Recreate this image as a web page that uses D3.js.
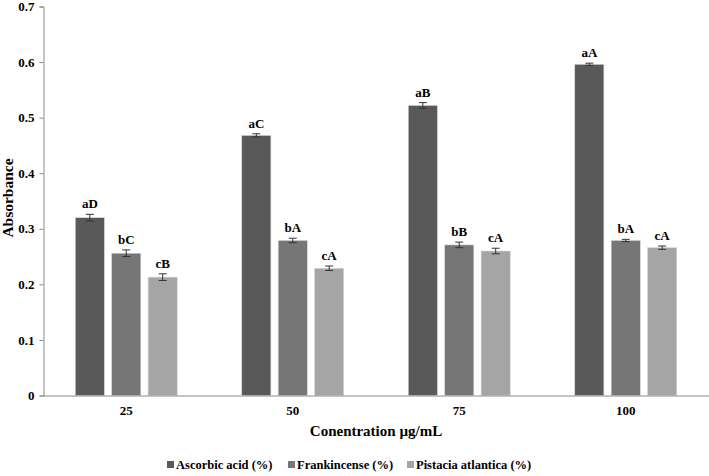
<!DOCTYPE html>
<html>
<head>
<meta charset="utf-8">
<script src="https://cdn.jsdelivr.net/npm/d3@7"></script>
<style>
  body { margin: 0; background: #fff; }
  text { font-family: "Liberation Serif", "Times New Roman", serif; font-weight: bold; fill: #000; }
</style>
</head>
<body>
<div id="chart"></div>
<script>
var width = 709
var height = 476
var margin = { top: 6, right: 0, bottom: 80, left: 43 }

// data
var concentrations = ["25", "50", "75", "100"]
var series = ["Ascorbic acid (%)", "Frankincense (%)", "Pistacia atlantica (%)"]
var ascorbic = [0.32, 0.468, 0.522, 0.596]
var frankincense = [0.256, 0.279, 0.271, 0.279]
var pistacia = [0.213, 0.229, 0.260, 0.266]
var ascorbicErr = [0.006, 0.003, 0.005, 0.002]
var frankErr = [0.006, 0.004, 0.005, 0.002]
var pistaciaErr = [0.006, 0.004, 0.005, 0.003]
var ascorbicLetters = ["aD", "aC", "aB", "aA"]
var frankLetters = ["bC", "bA", "bB", "bA"]
var pistaciaLetters = ["cB", "cA", "cA", "cA"]
var yTicks = [0, 0.1, 0.2, 0.3, 0.4, 0.5, 0.6, 0.7]

var colors = ["#595959", "#767676", "#a5a5a5"]

var values = [ascorbic, frankincense, pistacia]
var errs = [ascorbicErr, frankErr, pistaciaErr]
var letters = [ascorbicLetters, frankLetters, pistaciaLetters]

var data = []
concentrations.forEach(function (c, i) {
    series.forEach(function (s, j) {
        data.push({ conc: c, series: s, idx: j, value: values[j][i], err: errs[j][i], letter: letters[j][i] })
    })
})

var svg = d3.select("#chart")
    .append("svg")
    .attr("width", width)
    .attr("height", height)

var x0 = d3.scaleBand()
    .domain(concentrations)
    .range([margin.left, width - margin.right])

var x1 = d3.scaleBand()
    .domain(series)
    .range([-51, 51])
    .paddingInner(0.2)

var y = d3.scaleLinear()
    .domain([0, 0.7])
    .range([height - margin.bottom - 0.5, margin.top + 0.5])

// y axis
var yAxis = svg.append("g")
    .attr("transform", "translate(" + (margin.left + 0.5) + ",0)")
    .call(d3.axisLeft(y).tickValues(yTicks).tickSize(4).tickPadding(5)
        .tickFormat(function (d) { return d === 0 ? "0" : d3.format(".1f")(d) }))
yAxis.select(".domain").attr("stroke", "#8a8a8a")
yAxis.selectAll(".tick line").attr("stroke", "#8a8a8a")
yAxis.selectAll("text").style("font-size", "13px").attr("fill", "#000")

// bars
var groups = svg.selectAll(".grp")
    .data(data)
    .enter()
    .append("g")
    .attr("transform", function (d) { return "translate(" + (x0(d.conc) + x0.bandwidth() / 2 + x1(d.series)) + ",0)" })

groups.append("rect")
    .attr("x", 0)
    .attr("width", x1.bandwidth())
    .attr("y", function (d) { return y(d.value) })
    .attr("height", function (d) { return y(0) - y(d.value) })
    .attr("fill", function (d) { return colors[d.idx] })
    .attr("stroke", "#d9d9d9")
    .attr("stroke-width", 0.6)

// error bars
var bw = x1.bandwidth()
groups.append("line")
    .attr("x1", bw / 2).attr("x2", bw / 2)
    .attr("y1", function (d) { return y(d.value + d.err) })
    .attr("y2", function (d) { return y(d.value - d.err) })
    .attr("stroke", "#333").attr("stroke-width", 1)
groups.append("line")
    .attr("x1", bw / 2 - 4).attr("x2", bw / 2 + 4)
    .attr("y1", function (d) { return y(d.value + d.err) })
    .attr("y2", function (d) { return y(d.value + d.err) })
    .attr("stroke", "#333").attr("stroke-width", 1)
groups.append("line")
    .attr("x1", bw / 2 - 4).attr("x2", bw / 2 + 4)
    .attr("y1", function (d) { return y(d.value - d.err) })
    .attr("y2", function (d) { return y(d.value - d.err) })
    .attr("stroke", "#333").attr("stroke-width", 1)

// letters
groups.append("text")
    .attr("x", bw / 2)
    .attr("y", function (d) { return y(d.value + d.err) - 6 })
    .attr("text-anchor", "middle")
    .style("font-size", "13px")
    .text(function (d) { return d.letter })

// x axis
var xAxis = svg.append("g")
    .attr("transform", "translate(0," + y(0) + ")")
    .call(d3.axisBottom(x0).tickSize(0).tickPadding(10))
xAxis.select(".domain").attr("stroke", "#8a8a8a")
xAxis.selectAll("text").style("font-size", "13px").attr("fill", "#000")

// axis titles
svg.append("text")
    .attr("x", (margin.left + width) / 2)
    .attr("y", 436)
    .attr("text-anchor", "middle")
    .style("font-size", "15px")
    .text("Conentration µg/mL")

svg.append("text")
    .attr("transform", "translate(13,198) rotate(-90)")
    .attr("text-anchor", "middle")
    .style("font-size", "15.5px")
    .text("Absorbance")

// legend
var legendX = [167, 288, 407]
var legend = svg.selectAll(".leg")
    .data(series)
    .enter()
    .append("g")
    .attr("transform", function (d, i) { return "translate(" + legendX[i] + ",465)" })
legend.append("rect")
    .attr("x", 0).attr("y", -4)
    .attr("width", 7).attr("height", 7)
    .attr("fill", function (d, i) { return colors[i] })
legend.append("text")
    .attr("x", 9).attr("y", 4)
    .style("font-size", "12.5px")
    .text(function (d) { return d })
</script>
</body>
</html>
